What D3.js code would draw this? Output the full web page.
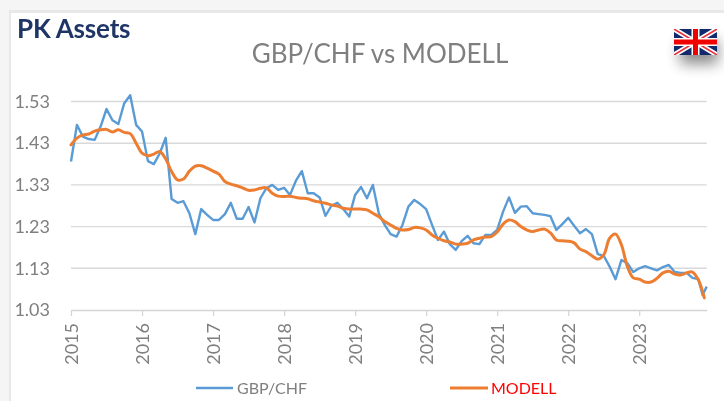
<!DOCTYPE html>
<html>
<head>
<meta charset="utf-8">
<script src="https://cdn.jsdelivr.net/npm/d3@7/dist/d3.min.js"></script>
<style>
html, body { margin: 0; padding: 0; background: #fff; overflow: hidden; }
svg { display: block; font-family: Lato, "Open Sans", sans-serif; filter: blur(0.45px); } /* reference is a soft screenshot */
</style>
</head>
<body>
<div class="displayArea"></div>
<script>
var years = ["2015", "2016", "2017", "2018", "2019", "2020", "2021", "2022", "2023"];
var yearMonths = [0, 12, 24, 36, 48, 60, 72, 84, 96];
var yTicks = [1.03, 1.13, 1.23, 1.33, 1.43, 1.53];

// month by month
var gbpchf = [1.386, 1.474, 1.446, 1.44, 1.438, 1.47, 1.512, 1.485, 1.476, 1.526, 1.545, 1.474,
    1.458, 1.387, 1.38, 1.406, 1.443, 1.296, 1.287, 1.291, 1.262, 1.212, 1.272, 1.258,
    1.246, 1.246, 1.26, 1.287, 1.249, 1.249, 1.277, 1.24, 1.298, 1.322, 1.33, 1.318,
    1.323, 1.306, 1.34, 1.363, 1.31, 1.31, 1.3, 1.256, 1.28, 1.287, 1.272, 1.254,
    1.306, 1.325, 1.298, 1.33, 1.262, 1.234, 1.212, 1.206, 1.234, 1.278, 1.294, 1.284,
    1.272, 1.234, 1.198, 1.218, 1.188, 1.174, 1.195, 1.208, 1.19, 1.188, 1.21, 1.21,
    1.222, 1.266, 1.3, 1.263, 1.278, 1.279, 1.262, 1.26, 1.258, 1.255, 1.222, 1.236,
    1.251, 1.232, 1.214, 1.224, 1.212, 1.164, 1.16, 1.134, 1.104, 1.15, 1.142, 1.121,
    1.13, 1.135, 1.13, 1.125, 1.133, 1.138, 1.121, 1.119, 1.119, 1.107, 1.104, 1.066, 1.086];

var modell = [1.426, 1.442, 1.45, 1.452, 1.459, 1.462, 1.463, 1.457, 1.462, 1.456, 1.453, 1.43,
    1.406, 1.4, 1.404, 1.41, 1.392, 1.362, 1.342, 1.344, 1.363, 1.375, 1.376, 1.37,
    1.363, 1.356, 1.338, 1.332, 1.328, 1.323, 1.317, 1.318, 1.322, 1.323, 1.31, 1.303,
    1.302, 1.303, 1.3, 1.298, 1.297, 1.292, 1.289, 1.286, 1.282, 1.279, 1.274, 1.272,
    1.272, 1.272, 1.27, 1.262, 1.254, 1.242, 1.234, 1.226, 1.222, 1.223, 1.228, 1.227,
    1.222, 1.21, 1.202, 1.196, 1.193, 1.188, 1.188, 1.19, 1.198, 1.202, 1.205, 1.206,
    1.217, 1.236, 1.246, 1.242, 1.23, 1.222, 1.218, 1.222, 1.224, 1.215, 1.198, 1.196,
    1.195, 1.191, 1.176, 1.17, 1.16, 1.152, 1.162, 1.202, 1.212, 1.186, 1.134, 1.107,
    1.104, 1.097, 1.097, 1.106, 1.119, 1.123, 1.116, 1.114, 1.119, 1.121, 1.102, 1.059];

var gbpchfLastMonths = [106.7, 107.4]; // the last two blue points sit closer than a month

var width = 724, height = 401;

var xScale = d3.scaleLinear().domain([0, 107.4]).range([71, 706.7]);
var yScale = d3.scaleLinear().domain([1.03, 1.53]).range([310, 101.5]);

var svg = d3.select(".displayArea").append("svg")
    .attr("width", width)
    .attr("height", height);

var defs = svg.append("defs");
defs.append("filter").attr("id", "flagShadow")
    .attr("x", "-100%").attr("y", "-100%").attr("width", "300%").attr("height", "300%")
    .append("feGaussianBlur").attr("stdDeviation", 7);
defs.append("clipPath").attr("id", "flagClip")
    .append("rect").attr("x", 674).attr("y", 29).attr("width", 43).attr("height", 26);

// page behind the chart
svg.append("rect").attr("width", width).attr("height", height).attr("fill", "#f5f5f5");
svg.append("rect").attr("x", 9).attr("y", 10).attr("width", width).attr("height", height).attr("fill", "#e8e8e8");
svg.append("rect").attr("x", 11).attr("y", 13).attr("width", width).attr("height", height).attr("fill", "#fff");

// horizontal grid
svg.append("g").selectAll("line")
    .data(yTicks.slice(1))
    .enter().append("line")
    .attr("x1", xScale.range()[0])
    .attr("x2", xScale.range()[1])
    .attr("y1", function (d) { return yScale(d); })
    .attr("y2", function (d) { return yScale(d); })
    .attr("stroke", "#d9d9d9")
    .attr("stroke-width", 1.4);

var yAxis = d3.axisLeft(yScale)
    .tickValues(yTicks)
    .tickFormat(d3.format(".2f"))
    .tickSize(0)
    .tickPadding(20);

svg.append("g")
    .attr("transform", "translate(70,0)")
    .call(yAxis)
    .call(function (g) { g.select(".domain").remove(); })
    .selectAll("text")
    .attr("fill", "#7f7f7f")
    .style("font-size", "18px")
    .style("font-family", "Lato");

var xAxis = d3.axisBottom(xScale)
    .tickValues(yearMonths)
    .tickFormat(function (d, i) { return years[i]; })
    .tickSizeInner(6)
    .tickSizeOuter(0);

var xg = svg.append("g")
    .attr("transform", "translate(0,310)")
    .call(xAxis);

xg.select(".domain").attr("stroke", "#d4d4d4").attr("stroke-width", 1.4);
xg.selectAll("line").attr("stroke", "#d4d4d4").attr("stroke-width", 1.2);
xg.selectAll("text")
    .attr("transform", "rotate(-90)")
    .attr("x", -13)
    .attr("y", 0)
    .attr("dy", "0.35em")
    .attr("text-anchor", "end")
    .attr("fill", "#7f7f7f")
    .style("font-size", "18px")
    .style("font-family", "Lato");

// series
var gbpLine = d3.line()
    .x(function (d, i) { return xScale(i < 107 ? i : gbpchfLastMonths[i - 107]); })
    .y(function (d) { return yScale(d); });

var modellLine = d3.line()
    .x(function (d, i) { return xScale(i); })
    .y(function (d) { return yScale(d); })
    .curve(d3.curveCatmullRom.alpha(0.5));

svg.append("path")
    .attr("d", gbpLine(gbpchf))
    .attr("fill", "none")
    .attr("stroke", "#5b9bd5")
    .attr("stroke-width", 2.4)
    .attr("stroke-linejoin", "round");

svg.append("path")
    .attr("d", modellLine(modell))
    .attr("fill", "none")
    .attr("stroke", "#ed7d31")
    .attr("stroke-width", 3)
    .attr("stroke-linecap", "round");

// header
svg.append("text")
    .attr("x", 17).attr("y", 38)
    .attr("fill", "#1f3566")
    .style("font-size", "26px")
    .style("font-weight", "700")
    .style("letter-spacing", "-0.2px")
    .text("PK Assets");

svg.append("text")
    .attr("x", 380).attr("y", 63)
    .attr("text-anchor", "middle")
    .attr("fill", "#7f7f7f")
    .style("font-size", "26px")
    .text("GBP/CHF vs MODELL");

// legend
var legendItems = [
    { label: "GBP/CHF", x1: 196, x2: 233, tx: 237, line: "#5b9bd5", text: "#7f7f7f", w: 2.4 },
    { label: "MODELL", x1: 450, x2: 488, tx: 491, line: "#ed7d31", text: "#ff0000", w: 3 }
];
var legend = svg.append("g").selectAll("g").data(legendItems).enter().append("g");
legend.append("line")
    .attr("x1", function (d) { return d.x1; })
    .attr("x2", function (d) { return d.x2; })
    .attr("y1", 388).attr("y2", 388)
    .attr("stroke", function (d) { return d.line; })
    .attr("stroke-width", function (d) { return d.w; });
legend.append("text")
    .attr("x", function (d) { return d.tx; })
    .attr("y", 394)
    .attr("fill", function (d) { return d.text; })
    .style("font-size", "16px")
    .text(function (d) { return d.label; });

// flag with its drop shadow
svg.append("rect")
    .attr("x", 680).attr("y", 40).attr("width", 38).attr("height", 24)
    .attr("fill", "#000").attr("opacity", 0.45)
    .attr("filter", "url(#flagShadow)");

var flag = svg.append("g").attr("clip-path", "url(#flagClip)");
flag.append("rect").attr("x", 674).attr("y", 29).attr("width", 43).attr("height", 26).attr("fill", "#12296b");
flag.append("path").attr("d", "M674,29L717,55M717,29L674,55").attr("stroke", "#fff").attr("stroke-width", 5);
flag.append("path").attr("d", "M674,29L717,55M717,29L674,55").attr("stroke", "#e8303a").attr("stroke-width", 1.6);
flag.append("path").attr("d", "M695.5,29V55M674,42H717").attr("stroke", "#fff").attr("stroke-width", 8);
flag.append("path").attr("d", "M695.5,29V55M674,42H717").attr("stroke", "#f00000").attr("stroke-width", 5);
</script>
</body>
</html>
